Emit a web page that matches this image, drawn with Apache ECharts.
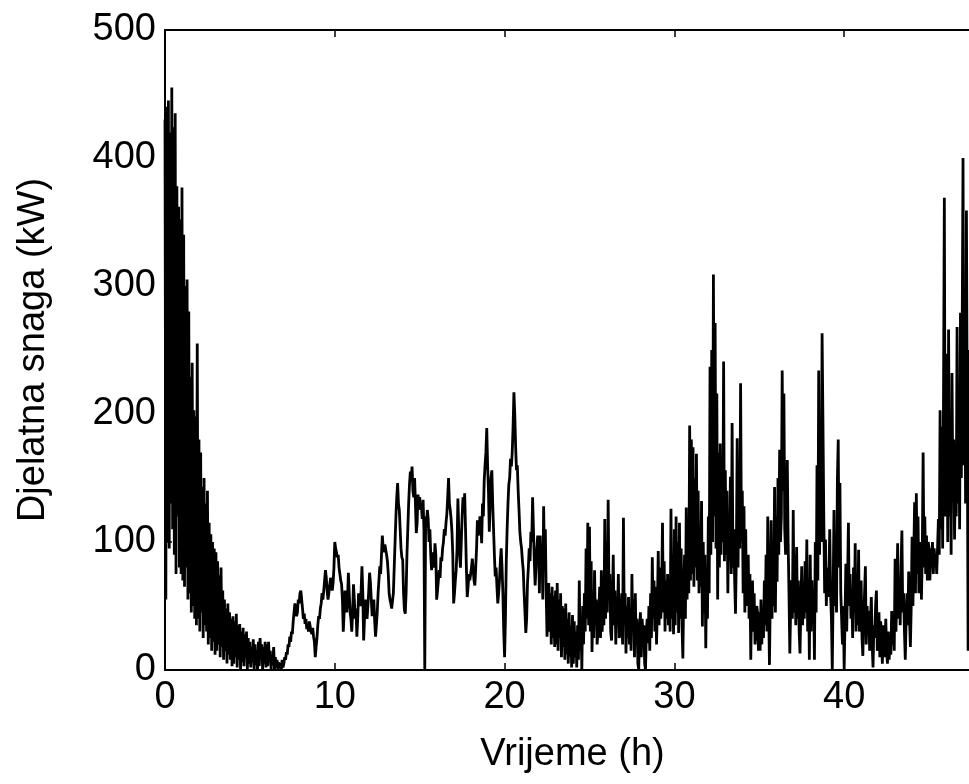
<!DOCTYPE html>
<html>
<head>
<meta charset="utf-8">
<script src="https://cdn.jsdelivr.net/npm/echarts@6/dist/echarts.min.js"></script>
<style>
html,body{margin:0;padding:0;background:#fff;overflow:hidden;width:969px;height:784px}
#chart{width:1000px;height:784px}
</style>
</head>
<body>
<div id="chart"></div>
<script>
// sample spacing of the recording (hours)
const stepHours = 0.05;

// Active power (kW), one value per 0.05 h (20 per hour)
const power_h00_08 = [
  430, 55, 440, 100, 445, 95, 420, 130, 455, 110, 424, 90, 435, 75, 378, 120, 362, 80, 352, 75,
  377, 70, 340, 65, 300, 80, 305, 55, 280, 60, 229, 45, 240, 50, 203, 40, 198, 35, 255, 40,
  180, 30, 170, 45, 143, 25, 150, 35, 130, 30, 140, 20, 115, 25, 106, 15, 100, 22, 95, 12,
  92, 15, 85, 20, 74, 10, 80, 18, 62, 8, 55, 15, 48, 5, 52, 12, 45, 8, 40, 3,
  42, 5, 38, 10, 44, 2, 35, 8, 36, 0, 30, 6, 33, 3, 28, 10, 30, 0, 25, 5,
  22, 2, 18, 6, 24, 0, 20, 4, 15, 0, 22, 3, 25, 8, 20, 0, 18, 5, 22, 2,
  20, 3, 22, 6, 15, 0, 12, 4, 18, 0, 10, 2, 8, 0, 6, 3, 5, 0, 8, 2,
  5, 10, 8, 14, 12, 20, 18, 26, 22, 30, 28, 38, 45, 52, 48, 42, 45, 55, 52, 60
];
const power_h08_16 = [
  62, 55, 48, 40, 44, 36, 40, 32, 36, 30, 38, 34, 30, 28, 33, 26, 22, 10, 18, 25,
  35, 42, 40, 48, 52, 60, 55, 62, 70, 78, 72, 62, 55, 60, 66, 72, 70, 62, 68, 80,
  100, 95, 92, 88, 90, 80, 75, 70, 67, 55, 30, 45, 62, 50, 45, 55, 76, 60, 45, 40,
  30, 45, 67, 55, 40, 48, 26, 40, 60, 52, 50, 62, 81, 60, 23, 40, 55, 48, 40, 50,
  62, 76, 68, 55, 42, 50, 55, 38, 26, 35, 45, 60, 70, 81, 75, 90, 105, 95, 92, 98,
  98, 90, 85, 75, 60, 55, 52, 48, 47, 60, 80, 100, 120, 135, 146, 130, 125, 110, 95, 88,
  86, 60, 47, 44, 60, 90, 110, 130, 145, 155, 150, 159, 140, 135, 150, 130, 107, 115, 137, 130,
  135, 125, 128, 118, 133, 110, 0, 120, 112, 125, 118, 100, 110, 90, 78, 85, 92, 80, 99, 90
];
const power_h16_24 = [
  55, 62, 70, 78, 72, 88, 85, 95, 100, 110, 105, 115, 122, 135, 150, 130, 125, 118, 108, 90,
  52, 60, 70, 78, 95, 134, 110, 90, 80, 100, 120, 135, 125, 138, 110, 80, 57, 65, 75, 70,
  75, 80, 87, 78, 70, 66, 80, 95, 117, 105, 110, 120, 115, 99, 130, 120, 148, 160, 170, 189,
  160, 140, 108, 130, 150, 156, 130, 110, 90, 73, 80, 65, 52, 60, 70, 85, 95, 80, 60, 30,
  10, 40, 85, 110, 130, 145, 150, 165, 159, 170, 190, 217, 200, 175, 156, 160, 140, 125, 108, 100,
  95, 85, 78, 60, 45, 29, 40, 68, 80, 95, 85, 108, 100, 135, 110, 85, 66, 80, 95, 105,
  100, 60, 105, 75, 98, 55, 128, 85, 110, 60, 26, 45, 68, 30, 60, 20, 65, 25, 58, 18,
  62, 20, 68, 15, 55, 25, 60, 10, 50, 18, 48, 8, 52, 12, 40, 5, 45, 10, 35, 2
];
const power_h24_32 = [
  43, 5, 38, 10, 30, 2, 35, 8, 70, 15, 40, 0, 50, 20, 60, 30, 95, 40, 115, 35,
  112, 30, 85, 14, 60, 25, 78, 35, 55, 20, 30, 45, 65, 25, 78, 30, 60, 35, 118, 40,
  100, 45, 133, 60, 75, 30, 23, 50, 90, 35, 62, 20, 55, 40, 75, 25, 28, 45, 60, 20,
  119, 35, 60, 13, 50, 25, 57, 20, 45, 15, 75, 30, 55, 10, 60, 20, 40, 5, 0, 30,
  45, 10, 40, 28, 35, 5, 0, 30, 40, 21, 50, 15, 60, 25, 88, 40, 70, 30, 65, 20,
  50, 93, 35, 80, 40, 60, 115, 45, 85, 30, 70, 40, 75, 35, 60, 30, 126, 40, 90, 28,
  110, 35, 120, 45, 100, 29, 115, 40, 95, 35, 9, 60, 90, 40, 127, 55, 110, 60, 191, 70,
  180, 75, 174, 65, 150, 80, 169, 70, 140, 60, 110, 65, 132, 34, 100, 45, 90, 17, 80, 40
];
const power_h32_40 = [
  120, 60, 237, 90, 250, 100, 309, 120, 271, 95, 216, 55, 170, 80, 177, 90, 150, 100, 241, 85,
  156, 90, 140, 60, 120, 85, 151, 75, 193, 80, 110, 70, 44, 90, 181, 80, 150, 95, 224, 100,
  140, 60, 128, 45, 110, 50, 62, 90, 40, 75, 8, 55, 70, 30, 60, 20, 29, 50, 45, 15,
  45, 15, 55, 20, 47, 25, 70, 35, 90, 30, 120, 50, 4, 60, 117, 40, 80, 50, 143, 45,
  120, 69, 150, 90, 172, 100, 120, 234, 140, 216, 110, 90, 130, 164, 100, 60, 13, 50, 70, 40,
  125, 45, 90, 35, 96, 40, 70, 30, 13, 50, 81, 35, 60, 40, 85, 45, 102, 30, 70, 8,
  90, 30, 70, 40, 60, 8, 100, 45, 160, 70, 234, 90, 150, 100, 263, 194, 120, 60, 102, 50,
  80, 57, 70, 110, 60, 40, 0, 60, 125, 50, 90, 45, 148, 180, 80, 146, 60, 40, 20, 50
];
const power_h40_48 = [
  0, 40, 83, 30, 70, 115, 50, 75, 40, 60, 25, 80, 45, 99, 30, 70, 35, 94, 30, 50,
  70, 25, 11, 40, 60, 81, 20, 50, 35, 46, 15, 40, 57, 20, 2, 35, 25, 50, 62, 15,
  20, 45, 10, 38, 25, 5, 35, 31, 10, 40, 15, 5, 30, 8, 25, 12, 46, 20, 35, 15,
  87, 30, 60, 99, 40, 70, 35, 80, 109, 45, 60, 30, 8, 40, 60, 35, 77, 40, 18, 50,
  104, 50, 90, 131, 60, 138, 75, 120, 60, 74, 100, 55, 90, 170, 80, 120, 75, 105, 70, 100,
  95, 70, 95, 80, 100, 75, 95, 85, 90, 75, 95, 118, 90, 203, 110, 190, 95, 208, 369, 120,
  130, 247, 100, 266, 120, 200, 90, 232, 138, 180, 102, 150, 120, 268, 130, 200, 110, 279, 150, 260,
  400, 160, 300, 130, 359, 200, 15, 150, 250, 120, 300, 140, 280, 100, 260, 150, 300, 180, 250, 200,
  220
];

const xTickLabels = [0, 10, 20, 30, 40];
const yTickLabels = [0, 100, 200, 300, 400, 500];
const xTitle = 'Vrijeme (h)';
const yTitle = 'Djelatna snaga (kW)';

const powerValues = [].concat(power_h00_08, power_h08_16, power_h16_24,
                              power_h24_32, power_h32_40, power_h40_48);
const seriesData = powerValues.map((v, i) => [Math.round(i * stepHours * 100) / 100, v]);

const FONT = "'Liberation Sans', Arial, Helvetica, sans-serif";
const axisLine = { show: true, onZero: false, lineStyle: { color: '#000', width: 2 } };
const tick = { show: true, inside: true, length: 7, lineStyle: { color: '#000', width: 1.5 } };

const chart = echarts.init(document.getElementById('chart'), null, { renderer: 'canvas' });
chart.setOption({
  animation: false,
  backgroundColor: '#fff',
  grid: { left: 165, top: 30, right: 20, bottom: 114, containLabel: false },
  xAxis: [
    {
      type: 'value', min: 0, max: 48, interval: 10, position: 'bottom',
      axisLine: axisLine, axisTick: tick, splitLine: { show: false },
      axisLabel: {
        color: '#000', fontSize: 38, fontFamily: FONT, margin: 9,
        showMaxLabel: false,
        formatter: v => (xTickLabels.indexOf(v) >= 0 ? String(v) : '')
      },
      name: xTitle, nameLocation: 'middle', nameGap: 66,
      nameTextStyle: { color: '#000', fontSize: 38, fontFamily: FONT }
    },
    {
      type: 'value', min: 0, max: 48, interval: 10, position: 'top',
      axisLine: axisLine, axisTick: tick, splitLine: { show: false },
      axisLabel: { show: false }
    }
  ],
  yAxis: [
    {
      type: 'value', min: 0, max: 500, interval: 100, position: 'left',
      axisLine: axisLine, axisTick: tick, splitLine: { show: false },
      axisLabel: {
        color: '#000', fontSize: 38, fontFamily: FONT, margin: 9,
        formatter: v => (yTickLabels.indexOf(v) >= 0 ? String(v) : '')
      },
      name: yTitle, nameLocation: 'middle', nameGap: 112, nameRotate: 90,
      nameTextStyle: { color: '#000', fontSize: 38, fontFamily: FONT }
    },
    {
      type: 'value', min: 0, max: 500, interval: 100, position: 'right',
      axisLine: axisLine, axisTick: tick, splitLine: { show: false },
      axisLabel: { show: false }
    }
  ],
  series: [{
    type: 'line',
    data: seriesData,
    xAxisIndex: 0, yAxisIndex: 0,
    symbol: 'none', showSymbol: false,
    sampling: null,
    lineStyle: { color: '#000', width: 2.8 },
    clip: true
  }]
});
</script>
</body>
</html>
